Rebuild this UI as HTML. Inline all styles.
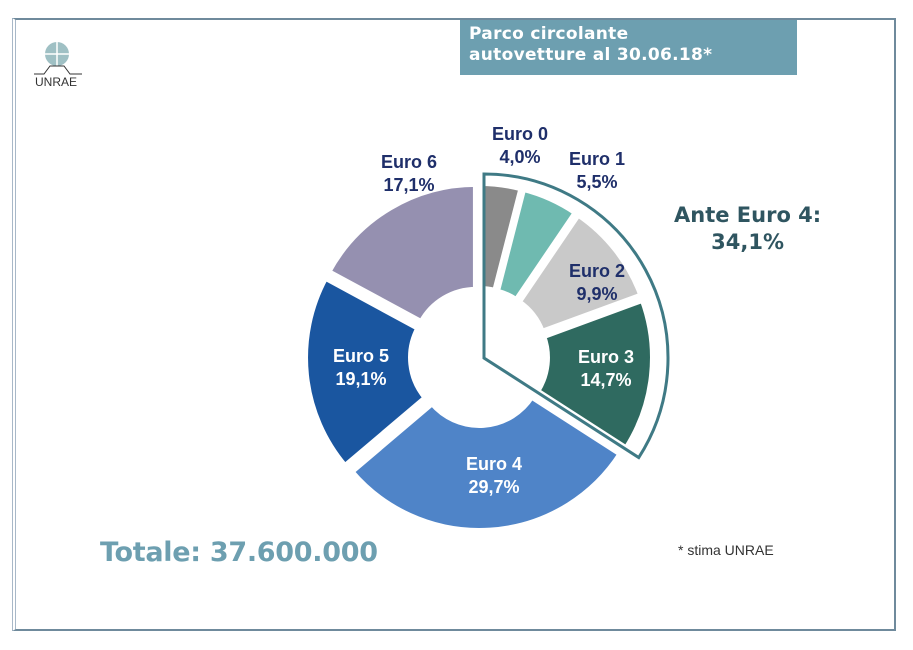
<!DOCTYPE html>
<html><head><meta charset="utf-8">
<style>
body{margin:0;width:913px;height:650px;background:#fff;position:relative;font-family:"Liberation Sans",sans-serif;overflow:hidden}
.frame{position:absolute;left:12px;top:18px;width:878px;height:609px;border:2px solid #6f8a9c;border-left:4px double #a8b8c8}
.title{position:absolute;left:460px;top:20px;width:337px;height:55px;background:#6d9fb0;color:#fff;font-weight:bold;font-size:17px;line-height:21px;padding:4px 0 0 9px;box-sizing:border-box;font-family:"DejaVu Sans",sans-serif;letter-spacing:0.3px}
.total{position:absolute;left:100px;top:537px;font-size:27px;font-weight:bold;color:#6d9fb0;font-family:"DejaVu Sans",sans-serif;letter-spacing:-0.3px}
.note{position:absolute;left:678px;top:542px;font-size:14px;color:#333}
.ante{position:absolute;left:674px;top:202px;font-size:21px;font-weight:bold;color:#2f5560;text-align:center;line-height:27px;font-family:"DejaVu Sans",sans-serif}
</style></head><body>
<div class="frame"></div>
<div class="title">Parco circolante<br>autovetture al 30.06.18*</div>
<svg style="position:absolute;left:30px;top:40px" width="60" height="50">
<circle cx="27" cy="14" r="12" fill="#9fc0c4"/><path d="M27 2V26M15 14H39" stroke="#fff" stroke-width="1.5"/>
<path d="M4 34H14L20 26H34L40 34H52" stroke="#333" fill="none" stroke-width="1"/>
<text x="5" y="46" font-size="12" fill="#333" font-family="Liberation Sans">UNRAE</text></svg>
<svg id="chart" style="position:absolute;left:0;top:0" width="913" height="650"></svg>
<div class="ante">Ante Euro 4:<br>34,1%</div>
<div class="total">Totale: 37.600.000</div>
<div class="note">* stima UNRAE</div>
<script>
const categories=["Euro 0","Euro 1","Euro 2","Euro 3","Euro 4","Euro 5","Euro 6"];
const values=[4.0,5.5,9.9,14.7,29.7,19.1,17.1];
const labels=["4,0%","5,5%","9,9%","14,7%","29,7%","19,1%","17,1%"];
const colors=["#8a8a8a","#6fbab0","#c9c9c9","#2f6a60","#4f84c8","#1a56a0","#9590b0"];
const textColors=["#1f2f6a","#1f2f6a","#1f2f6a","#fff","#fff","#fff","#1f2f6a"];
const anteShare=34.1;
const svg=document.getElementById('chart');const NS="http://www.w3.org/2000/svg";
const cx=479,cy=357,R=168,r0=62,ex=6;
const total=values.reduce((a,b)=>a+b,0);
function pt(a,rad,ox,oy){return[ox+rad*Math.sin(a),oy-rad*Math.cos(a)];}
const labelPos=[[520,140,"out"],[597,165,"out"],[597,277,"in"],[606,363,"in"],[494,470,"in"],[361,362,"in"],[409,168,"out"]];
let acc=0;
values.forEach((v,i)=>{
 const a0=acc/total*2*Math.PI,a1=(acc+v)/total*2*Math.PI;acc+=v;
 const mid=(a0+a1)/2,ox=cx+ex*Math.sin(mid),oy=cy-ex*Math.cos(mid);
 const p1=pt(a0,R,ox,oy),p2=pt(a1,R,ox,oy),p3=pt(a1,r0,ox,oy),p4=pt(a0,r0,ox,oy);
 const lg=(a1-a0)>Math.PI?1:0;
 const p=document.createElementNS(NS,'path');
 p.setAttribute('d',`M${p1}A${R},${R} 0 ${lg} 1 ${p2}L${p3}A${r0},${r0} 0 ${lg} 0 ${p4}Z`);
 p.setAttribute('fill',colors[i]);p.setAttribute('stroke','#fff');p.setAttribute('stroke-width','6');
 
 
 svg.appendChild(p);
 const lp=labelPos[i];
 const t=document.createElementNS(NS,'text');
 t.setAttribute('x',lp[0]);t.setAttribute('y',lp[1]);t.setAttribute('text-anchor','middle');
 t.setAttribute('font-size','18');t.setAttribute('font-weight','bold');t.setAttribute('font-family','Liberation Sans');
 t.setAttribute('fill',textColors[i]);
 
 
 t.innerHTML=`<tspan x="${lp[0]}">${categories[i]}</tspan><tspan x="${lp[0]}" dy="23">${labels[i]}</tspan>`;
 svg.appendChild(t);
});
const aa=anteShare/100*2*Math.PI,RO=184,ax=484,ay=358;
const q1=pt(0,RO,ax,ay),q2=pt(aa,RO,ax,ay);
const o=document.createElementNS(NS,'path');
o.setAttribute('d',`M${ax},${ay}L${q1}A${RO},${RO} 0 0 1 ${q2}Z`);
o.setAttribute('fill','none');o.setAttribute('stroke','#3f7a85');o.setAttribute('stroke-width','3');


svg.appendChild(o);
</script>
</body></html>
